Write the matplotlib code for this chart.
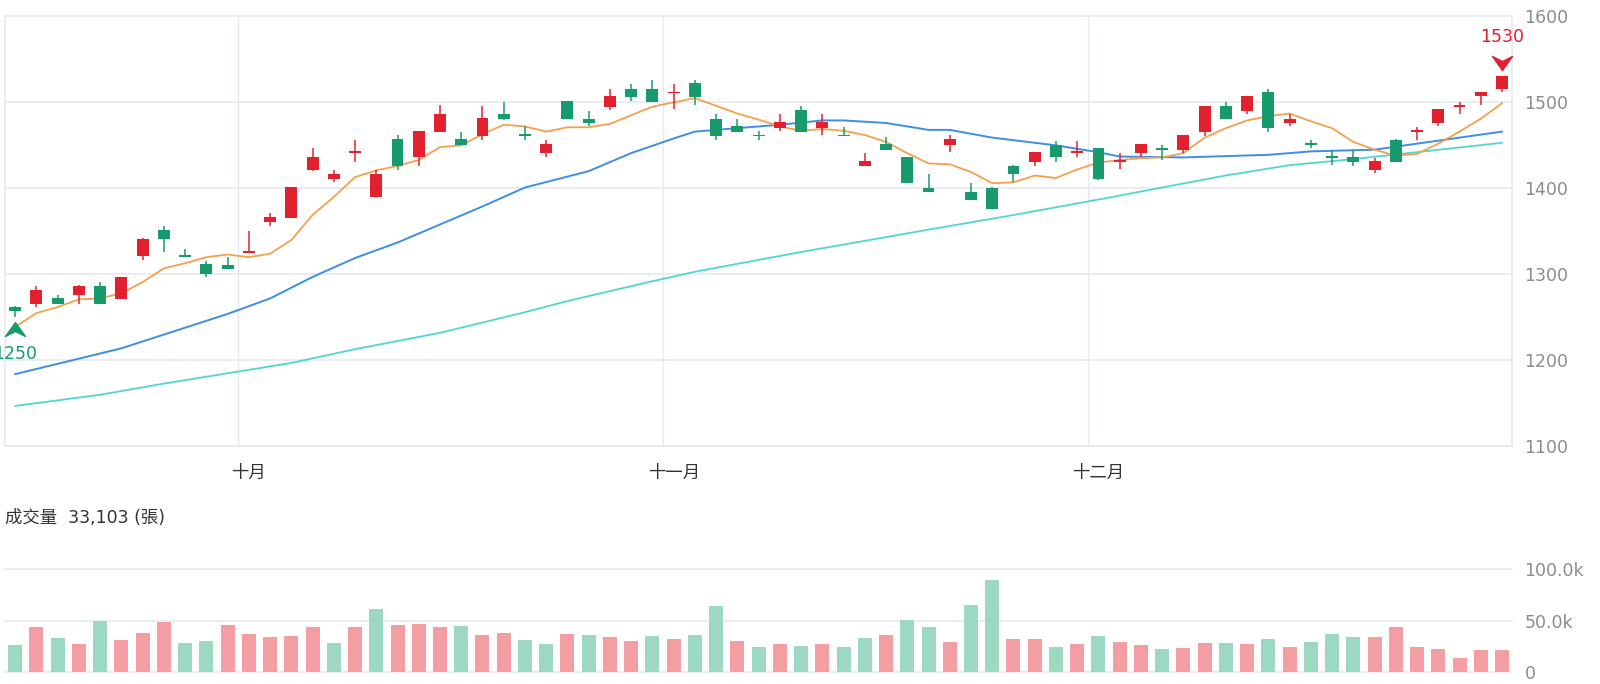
"""K-line chart with MA lines and volume panel."""
import numpy as np
import matplotlib
matplotlib.use("Agg")
import matplotlib.pyplot as plt
from matplotlib.path import Path
from matplotlib.transforms import offset_copy

plt.rcParams['font.family'] = ['DejaVu Sans', 'Noto Sans CJK TC']

# daily OHLC
opens = [1261, 1265, 1271, 1275, 1286, 1270, 1320, 1351, 1321, 1311,
         1310, 1324, 1360, 1364, 1420, 1410, 1440, 1389, 1456, 1435,
         1464, 1456, 1460, 1486, 1462, 1440, 1501, 1480, 1494, 1515,
         1515, 1510, 1521, 1480, 1471, 1461, 1469, 1490, 1469, 1461,
         1425, 1451, 1436, 1400, 1449, 1395, 1400, 1425, 1430, 1450,
         1441, 1446, 1430, 1440, 1445, 1444, 1465, 1495, 1489, 1511,
         1475, 1451, 1436, 1436, 1420, 1455, 1465, 1475, 1494, 1506, 1514]
highs = [1262, 1285, 1275, 1287, 1290, 1296, 1341, 1355, 1329, 1315,
         1319, 1350, 1370, 1401, 1446, 1420, 1455, 1420, 1461, 1466,
         1496, 1465, 1495, 1500, 1471, 1455, 1501, 1489, 1515, 1520,
         1525, 1520, 1525, 1485, 1480, 1466, 1485, 1495, 1485, 1470,
         1440, 1459, 1436, 1416, 1461, 1405, 1401, 1426, 1441, 1454,
         1454, 1446, 1440, 1451, 1449, 1461, 1495, 1500, 1506, 1515,
         1486, 1455, 1444, 1444, 1434, 1456, 1470, 1491, 1500, 1511, 1530]
lows = [1250, 1261, 1264, 1265, 1264, 1270, 1316, 1325, 1320, 1296,
        1305, 1324, 1355, 1364, 1419, 1406, 1430, 1389, 1420, 1425,
        1464, 1449, 1455, 1479, 1455, 1436, 1480, 1471, 1490, 1501,
        1500, 1491, 1496, 1455, 1465, 1455, 1466, 1465, 1461, 1460,
        1425, 1444, 1405, 1395, 1441, 1385, 1375, 1406, 1425, 1430,
        1436, 1409, 1421, 1436, 1432, 1440, 1460, 1480, 1485, 1465,
        1471, 1446, 1426, 1425, 1417, 1430, 1455, 1471, 1486, 1496, 1511]
closes = [1256, 1281, 1265, 1286, 1265, 1296, 1340, 1340, 1320, 1299,
          1305, 1326, 1366, 1401, 1436, 1416, 1442, 1416, 1425, 1466,
          1486, 1449, 1481, 1480, 1461, 1451, 1480, 1475, 1506, 1505,
          1500, 1511, 1505, 1460, 1465, 1460, 1476, 1465, 1476, 1460,
          1431, 1444, 1405, 1395, 1456, 1385, 1375, 1416, 1441, 1435,
          1442, 1410, 1432, 1451, 1444, 1461, 1495, 1480, 1506, 1469,
          1480, 1450, 1435, 1430, 1431, 1430, 1467, 1491, 1496, 1511, 1530]

# volume in thousand lots, and whether the bar is drawn red (up day)
volumes = [26.5, 43.4, 32.7, 27.2, 49.8, 30.7, 38.2, 48.2, 28.5, 30.1,
           45.6, 36.9, 33.7, 35.3, 43.4, 28.2, 43.4, 61.2, 45.6, 46.3,
           43.4, 44.7, 35.9, 37.9, 31.4, 26.9, 36.6, 35.9, 33.7, 30.4,
           34.6, 31.7, 36.2, 64.4, 30.4, 24.3, 27.5, 25.6, 26.9, 24.6,
           33.3, 35.6, 50.8, 43.4, 28.8, 65.4, 89.6, 31.7, 32.4, 24.6,
           26.9, 34.6, 28.8, 25.9, 22.3, 23.0, 27.8, 27.8, 27.2, 32.4,
           24.6, 28.8, 37.2, 33.7, 33.7, 43.4, 24.6, 22.7, 13.9, 21.4, 21.4]
vol_up = [0, 1, 0, 1, 0, 1, 1, 1, 0, 0,
          1, 1, 1, 1, 1, 0, 1, 0, 1, 1,
          1, 0, 1, 1, 0, 0, 1, 0, 1, 1,
          0, 1, 0, 0, 1, 0, 1, 0, 1, 0,
          0, 1, 0, 0, 1, 0, 0, 1, 1, 0,
          1, 0, 1, 1, 0, 1, 1, 0, 1, 0,
          1, 0, 0, 0, 1, 1, 1, 1, 1, 1, 1]

# moving averages
ma5 = [1238, 1254, 1261, 1270, 1271, 1277, 1290, 1306, 1312, 1319,
       1322, 1319, 1323, 1339, 1368, 1389, 1412, 1420, 1425, 1432,
       1447, 1449, 1462, 1473, 1471, 1465, 1470, 1470, 1474, 1484,
       1494, 1499, 1504, 1495, 1486, 1479, 1471, 1466, 1468, 1466,
       1461, 1453, 1440, 1428, 1427, 1418, 1405, 1406, 1414, 1411,
       1421, 1429, 1432, 1434, 1435, 1440, 1458, 1469, 1478, 1483,
       1486, 1477, 1469, 1453, 1444, 1437, 1439, 1451, 1465, 1480, 1498]
ma20_idx = [0, 2, 5, 7, 10, 12, 14, 16, 18, 20, 22, 24, 27, 29, 31, 32, 34,
            36, 38, 39, 41, 43, 44, 46, 49, 51, 52, 55, 59, 61, 64, 66, 70]
ma20 = [1183, 1195, 1213, 1229, 1253, 1271, 1296, 1318, 1336, 1357, 1378,
        1400, 1419, 1440, 1457, 1465, 1469, 1473, 1478, 1478, 1475, 1467,
        1467, 1458, 1449, 1441, 1436, 1435, 1438, 1442, 1444, 1451, 1465]
ma60_idx = [0, 4, 7, 10, 13, 16, 20, 24, 26, 30, 32, 37, 43, 47, 51, 54, 57,
            60, 63, 70]
ma60 = [1146, 1159, 1172, 1184, 1196, 1212, 1231, 1255, 1268, 1291, 1302,
        1325, 1351, 1368, 1386, 1400, 1414, 1426, 1433, 1452]

month_pos = [11, 31, 51]
month_breaks = [10.5, 30.5, 50.5]
month_labels = ["十月", "十一月", "十二月"]
price_ticks = [1100, 1200, 1300, 1400, 1500, 1600]
vol_ticks = [0, 50, 100]
vol_labels = ["0", "50.0k", "100.0k"]

RED, GREEN = "#e3202d", "#179b6c"
VRED, VGREEN = "#f39ea3", "#9dd8c2"
GRID = "#e6e9f2"
LABEL = "#8c8c8c"

o, h, l, c = (np.array(a, dtype=float) for a in (opens, highs, lows, closes))
x = np.arange(len(o))
cols = np.where(c >= o, RED, GREEN)

fig = plt.figure(figsize=(16, 6.84), dpi=100)
ax = fig.add_axes([0.003125, 0.34868, 0.941875, 0.62865])
axv = fig.add_axes([0.003125, 0.01754, 0.941875, 0.15058])

# price panel
ax.set_xlim(-0.48, 70.47)
ax.set_ylim(1100, 1600)
for y in price_ticks[1:-1]:
    ax.axhline(y, color=GRID, lw=1.2, zorder=0)
for xb in month_breaks:
    ax.axvline(xb, color=GRID, lw=1.0, zorder=0)
for s in ax.spines.values():
    s.set_color(GRID)
    s.set_linewidth(1.2)

ax.plot(ma60_idx, ma60, color="#4fd6d3", lw=1.3, zorder=2)
ax.plot(ma20_idx, ma20, color="#3f8ee6", lw=1.4, zorder=2)
ax.plot(x, ma5, color="#f4a04c", lw=1.3, zorder=2)

body_h = np.maximum(np.abs(c - o), 2.2)
body_b = (o + c) / 2 - body_h / 2
ax.vlines(x, l, h, colors=cols, lw=1.1, zorder=3)
ax.bar(x, body_h, bottom=body_b, width=0.56, color=cols, zorder=4)

ax.yaxis.tick_right()
ax.set_yticks(price_ticks)
ax.set_yticklabels([str(t) for t in price_ticks])
ax.tick_params(axis='y', length=0, pad=9, labelsize=12.5, labelcolor=LABEL)
ax.set_xticks(month_pos)
ax.set_xticklabels(month_labels)
ax.tick_params(axis='x', length=0, pad=13, labelsize=12.5, labelcolor="#333333")

# extreme markers
up_arrow = Path([(0, 0.7), (1, -0.7), (0, -0.2), (-1, -0.7), (0, 0.7)],
                [Path.MOVETO, Path.LINETO, Path.LINETO, Path.LINETO, Path.CLOSEPOLY])
down_arrow = Path([(0, -0.7), (1, 0.7), (0, 0.2), (-1, 0.7), (0, -0.7)],
                  [Path.MOVETO, Path.LINETO, Path.LINETO, Path.LINETO, Path.CLOSEPOLY])
imin, imax = int(np.argmin(l)), int(np.argmax(h))
ax.plot(imin, l[imin], marker=up_arrow, ms=14.4, color=GREEN, clip_on=False, zorder=5,
        transform=offset_copy(ax.transData, fig=fig, y=-9.3, units='points'))
ax.text(imin, l[imin], f"{l[imin]:.0f}", ha='center', va='center', color=GREEN,
        fontsize=12.5, transform=offset_copy(ax.transData, fig=fig, y=-26.9, units='points'))
ax.plot(imax, h[imax], marker=down_arrow, ms=14.4, color=RED, clip_on=False, zorder=5,
        transform=offset_copy(ax.transData, fig=fig, y=9.4, units='points'))
ax.text(imax, h[imax], f"{h[imax]:.0f}", ha='center', va='center', color=RED,
        fontsize=12.5, transform=offset_copy(ax.transData, fig=fig, y=27.9, units='points'))

# volume panel
axv.set_xlim(-0.48, 70.47)
axv.set_ylim(0, 100)
for y in vol_ticks:
    axv.axhline(y, color=GRID, lw=1.2, zorder=0, clip_on=False)
for s in axv.spines.values():
    s.set_visible(False)
vcols = [VRED if u else VGREEN for u in vol_up]
axv.bar(x, volumes, width=0.66, color=vcols, zorder=2)
axv.yaxis.tick_right()
axv.set_yticks(vol_ticks)
axv.set_yticklabels(vol_labels)
axv.tick_params(axis='y', length=0, pad=9, labelsize=12.5, labelcolor=LABEL)
axv.set_xticks([])

fig.text(5 / 1600, 1 - 518 / 684, "成交量  33,103 (張)", ha='left', va='center',
         fontsize=12.5, color="#333333")

fig.savefig("out.png", dpi=100)
